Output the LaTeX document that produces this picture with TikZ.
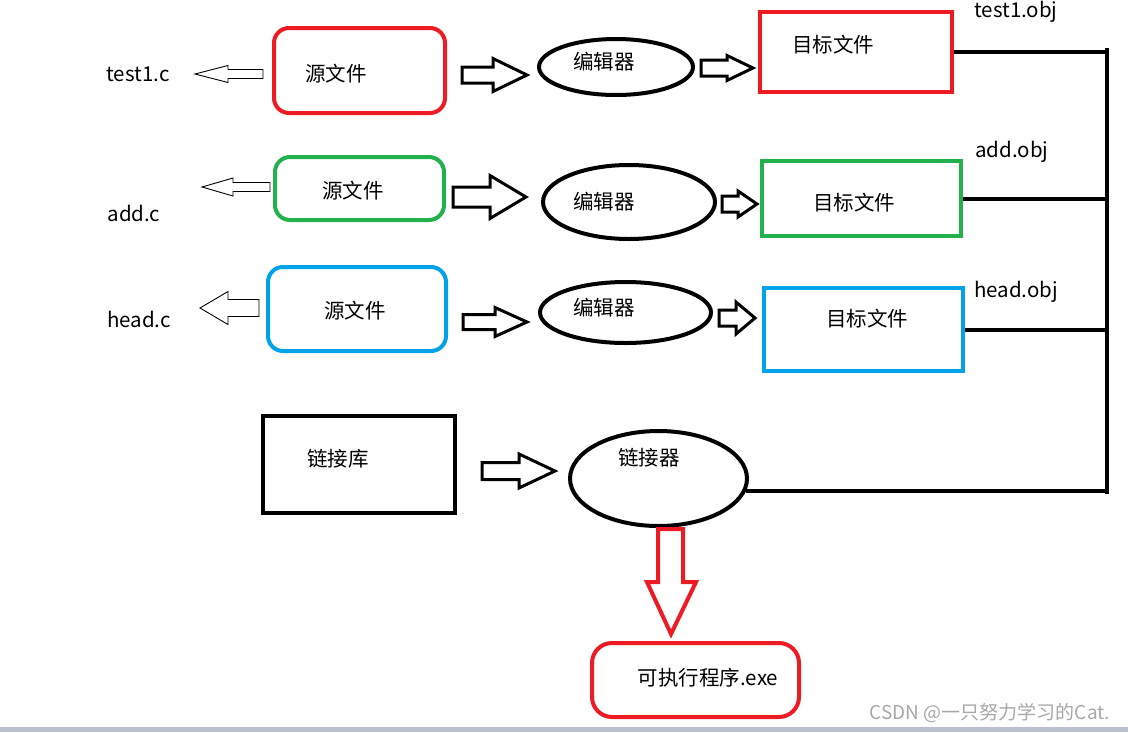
\documentclass[tikz,border=0pt]{standalone}
\usepackage{fontspec}
\setmainfont{Noto Sans CJK SC}
\usetikzlibrary{shapes.geometric}
\definecolor{pred}{HTML}{ED1C24}
\definecolor{pgreen}{HTML}{22B14C}
\definecolor{pblue}{HTML}{00A2E8}
\definecolor{wm}{HTML}{A8A8A8}
\definecolor{bar}{HTML}{B9C1CE}
% #1 options, #2 tail x, #3 head-base x, #4 tip x, #5 centre y, #6 shaft half height, #7 head half height
\newcommand{\harrow}[7][]{%
  \draw[#1] (#2,#5-#6) -- (#3,#5-#6) -- (#3,#5-#7) -- (#4,#5) -- (#3,#5+#7) -- (#3,#5+#6) -- (#2,#5+#6) -- cycle;}
\tikzset{
  txt/.style={inner sep=0pt, font=\fontsize{20.5}{24}\selectfont},
  srcbox/.style={draw=#1, line width=4pt, rounded corners=15pt, inner sep=0pt},
  objbox/.style={draw=#1, line width=4pt, inner sep=0pt},
  edit/.style={draw, ellipse, line width=4pt, inner sep=0pt},
  thin/.style={line width=0.9pt, line join=miter},
  thick/.style={line width=3pt, line join=miter},
  bus/.style={line width=4pt},
}
\begin{document}
\begin{tikzpicture}[x=1pt,y=-1pt]
\useasboundingbox (0,0) rectangle (1128,732);
\fill[white] (0,0) rectangle (1128,732);
\fill[bar] (0,727) rectangle (1128,732);

% row 1
\node[srcbox=pred, minimum width=171pt, minimum height=85pt] (s1) at (359.5,70.5) {};
\node[edit, minimum width=154pt, minimum height=56pt] (e1) at (616,67) {};
\node[objbox=pred, minimum width=192pt, minimum height=80pt] (t1) at (856,52) {};
% row 2
\node[srcbox=pgreen, minimum width=169pt, minimum height=63pt] (s2) at (359.5,188.5) {};
\node[edit, minimum width=172pt, minimum height=74pt] (e2) at (629,202) {};
\node[objbox=pgreen, minimum width=199pt, minimum height=75pt] (t2) at (861.5,198.5) {};
% row 3
\node[srcbox=pblue, minimum width=178pt, minimum height=84pt] (s3) at (357,309) {};
\node[edit, minimum width=171pt, minimum height=61pt] (e3) at (625.5,312.5) {};
\node[objbox=pblue, minimum width=199pt, minimum height=83pt] (t3) at (863.5,329.5) {};
% row 4
\node[objbox=black, minimum width=192pt, minimum height=97pt] (lib) at (359,464.5) {};
\node[edit, minimum width=177pt, minimum height=95pt] (lnk) at (658.5,478.5) {};
\node[srcbox=pred, rounded corners=20pt, minimum width=207pt, minimum height=74pt] (exe) at (695.5,680) {};

% texts
\node[txt] (f1) at (138,74) {test1.c};
\node[txt] (f2) at (134,213) {add.c};
\node[txt] (f3) at (139,319) {head.c};
\node[txt] (o1) at (1016,12) {test1.obj};
\node[txt] (o2) at (1012,152) {add.obj};
\node[txt] (o3) at (1016,292) {head.obj};
\node[txt] at (336,74) {源文件};
\node[txt] at (353,191) {源文件};
\node[txt] at (355,311) {源文件};
\node[txt] at (604,62) {编辑器};
\node[txt] at (604,202) {编辑器};
\node[txt] at (604,308) {编辑器};
\node[txt] at (833,45) {目标文件};
\node[txt] at (854,203) {目标文件};
\node[txt] at (867,319) {目标文件};
\node[txt] at (338,459) {链接库};
\node[txt] at (649,458) {链接器};
\node[txt] at (708,678) {可执行程序.exe};
\node[inner sep=0pt, text=wm, font=\fontsize{19}{22}\selectfont] (wmk) at (990,713) {CSDN @一只努力学习的Cat.};

% thin hollow arrows towards file names
\harrow[thin]{263}{228}{195}{74}{4.5}{8.5}
\harrow[thin]{270}{233}{202}{187}{4.5}{9}
\harrow[thin]{259}{228}{200}{308}{8.5}{16.5}

% thick hollow arrows
\harrow[thick]{462}{493}{527}{75}{8}{16.5}
\harrow[thick]{453}{490}{526}{197}{10}{21.5}
\harrow[thick]{463}{495}{527}{322}{7.5}{14.5}
\harrow[thick]{701}{727}{753}{68}{8}{12.5}
\harrow[thick]{722}{738}{757}{204}{8}{13}
\harrow[thick]{719}{736}{755}{318}{8}{16}
\harrow[thick]{482}{519}{555}{471}{8.5}{17}

% red down arrow
\draw[draw=pred, line width=4pt, line join=miter]
  (658,529) -- (683,529) -- (683,582) -- (696,582) -- (671,634)
  -- (647,582) -- (658,582) -- cycle;

% bus
\coordinate (bustop) at (1107,48);
\coordinate (busbot) at (1107,494);
\draw[bus] (bustop) -- (busbot);
\draw[bus] (t1.east) -- (t1.east -| bustop);
\draw[bus] (t2.east) -- (t2.east -| bustop);
\draw[bus] (t3.east) -- (t3.east -| bustop);
\draw[bus] (lnk.-8) -- (lnk.-8 -| bustop);
\end{tikzpicture}
\end{document}
